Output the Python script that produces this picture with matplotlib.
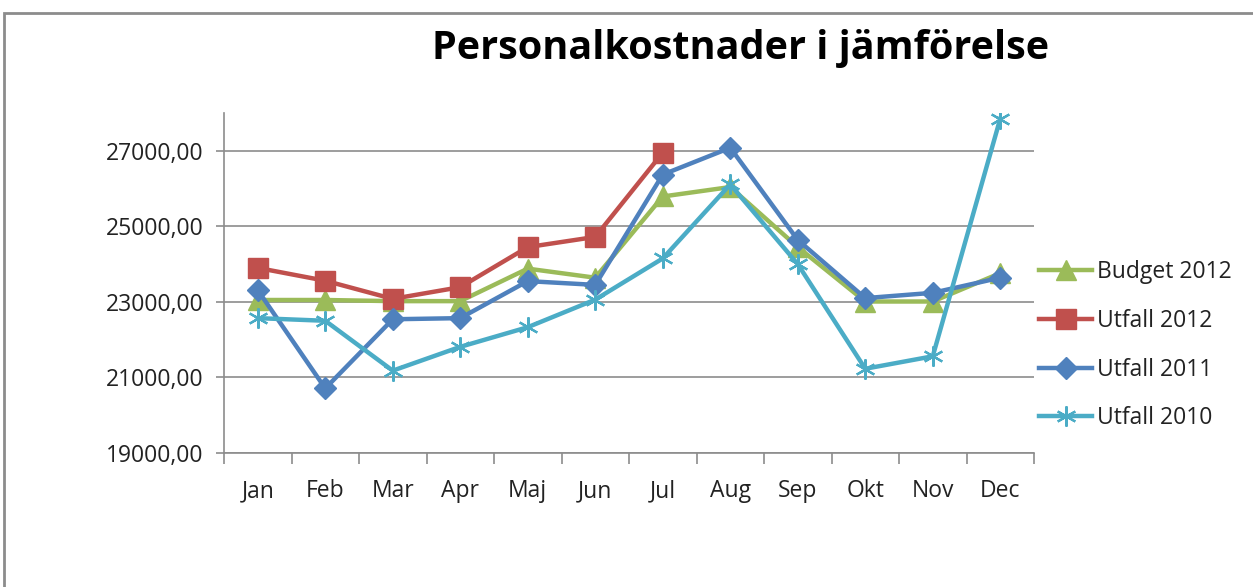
import matplotlib
matplotlib.use("Agg")
import matplotlib.pyplot as plt
from matplotlib.patches import Rectangle
from matplotlib.ticker import FixedLocator, FuncFormatter

months = ["Jan", "Feb", "Mar", "Apr", "Maj", "Jun", "Jul", "Aug", "Sep", "Okt", "Nov", "Dec"]
budget_2012 = [23050, 23050, 23020, 23020, 23880, 23640, 25790, 26040, 24450, 23010, 23010, 23760]
utfall_2012 = [23900, 23560, 23080, 23390, 24450, 24720, 26950]
utfall_2011 = [23310, 20710, 22540, 22570, 23550, 23450, 26370, 27080, 24640, 23100, 23240, 23640]
utfall_2010 = [22570, 22500, 21180, 21810, 22330, 23060, 24150, 26110, 24000, 21230, 21560, 27850]
yticks = [19000, 21000, 23000, 25000, 27000]

W, H = 1253, 587
plt.rcParams['font.family'] = ['Open Sans', 'DejaVu Sans']
fig = plt.figure(figsize=(W / 100, H / 100), dpi=100)

# outer border
fig.patches.append(Rectangle((4 / W, -0.05), 1.2, 1 - 13 / H + 0.05, transform=fig.transFigure,
                             fill=False, edgecolor="#8c8c8c", linewidth=2))

ax = fig.add_axes([224 / W, 1 - 453 / H, (1034 - 224) / W, (453 - 113) / H])

x = list(range(len(months)))
series = [
    ("Budget 2012", budget_2012, "#9BBB59", "^", 14.5, {}),
    ("Utfall 2012", utfall_2012, "#C0504D", "s", 14.5, {}),
    ("Utfall 2011", utfall_2011, "#4F81BD", "D", 11, {}),
    ("Utfall 2010", utfall_2010, "#4BACC6", (6, 2, 0), 14.5, {"markeredgewidth": 1.6}),
]
for name, vals, col, mk, ms, kw in series:
    ax.plot(x[:len(vals)], vals, color=col, linewidth=3.2, marker=mk, markersize=ms,
            markerfacecolor=col, markeredgecolor=col, label=name, **kw)

ax.set_xlim(-0.5, len(months) - 0.5)
ax.set_ylim(19000, 28000)
ax.yaxis.set_major_locator(FixedLocator(yticks))
ax.yaxis.set_major_formatter(FuncFormatter(lambda v, p: f"{v:.2f}".replace(".", ",")))
ax.grid(axis="y", color="#8c8c8c", linewidth=1.2)
ax.set_axisbelow(True)

ax.set_xticks(x)
ax.set_xticklabels(months)
ax.set_xticks([i - 0.5 for i in range(len(months) + 1)], minor=True)
ax.tick_params(axis="x", which="major", length=0, pad=19, labelsize=16.5, colors="#222222")
ax.tick_params(axis="x", which="minor", length=8, width=1.2, color="#8c8c8c")
ax.tick_params(axis="y", length=6, width=1.2, color="#8c8c8c", labelsize=16.5, labelcolor="#222222", pad=9)

for s in ["top", "right"]:
    ax.spines[s].set_visible(False)
for s in ["left", "bottom"]:
    ax.spines[s].set_color("#8c8c8c")
    ax.spines[s].set_linewidth(1.2)

fig.text(741 / W, 1 - 48 / H, "Personalkostnader i jämförelse", ha="center", va="center",
         fontsize=28.5, fontweight="bold", color="#000000")

leg = ax.legend(loc="center left", bbox_to_anchor=(1.0, 0.317), frameon=False, fontsize=16.5,
                handlelength=2.35, labelspacing=1.08, handletextpad=0.2, borderaxespad=0.0,
                borderpad=0.2)
for t in leg.get_texts():
    t.set_color("#222222")

fig.savefig("out.png", dpi=100)
